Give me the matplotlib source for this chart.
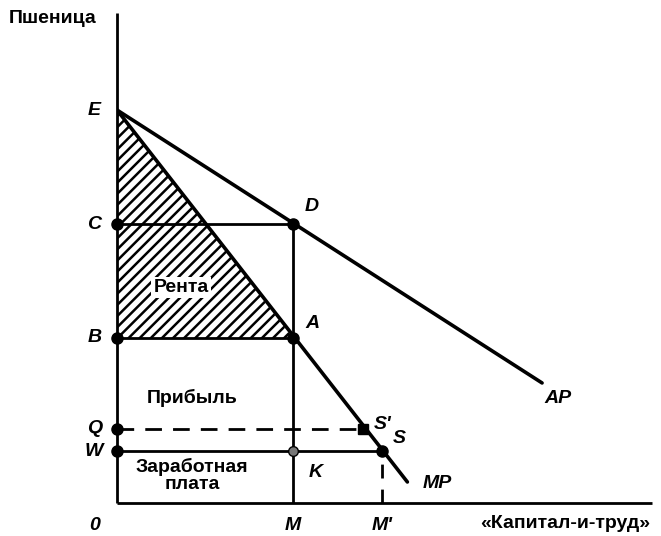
import matplotlib.pyplot as plt
from matplotlib.patches import Polygon

plt.rcParams['font.family'] = ['Liberation Sans', 'DejaVu Sans']
plt.rcParams['hatch.linewidth'] = 1.8

# уровни по вертикали (пшеница)
y_E, y_C, y_B, y_Q, y_W = 22.46, 15.94, 9.43, 4.23, 2.97
# уровни по горизонтали (капитал-и-труд)
x_M, x_Mp, x_Sp = 10.06, 15.14, 14.06

# кривые: от E до концов
ap_x = [0, 24.3]
ap_y = [y_E, 6.86]
mp_x = [0, 16.6]
mp_y = [y_E, 1.2]

fig = plt.figure(figsize=(6.61, 5.36), dpi=100)
ax = fig.add_axes([0.177, 0.0616, 0.809, 0.914])
ax.set_xlim(0, 30.57)
ax.set_ylim(0, 28.0)
ax.axis('off')

lw = 2.0
# оси
ax.plot([0, 0], [0, 28.0], color='black', lw=lw, solid_capstyle='butt', clip_on=False)
ax.plot([0, 30.57], [0, 0], color='black', lw=lw, solid_capstyle='butt', clip_on=False)

# заштрихованная рента
ax.add_patch(Polygon([[0, y_E], [x_M, y_B], [0, y_B]], closed=True,
                     facecolor='white', edgecolor='black', hatch='///', lw=0))

# линии AP и MP
ax.plot(ap_x, ap_y, color='black', lw=2.6, solid_capstyle='round')
ax.plot(mp_x, mp_y, color='black', lw=2.6, solid_capstyle='round')

# прямоугольники
ax.plot([0, x_M], [y_C, y_C], color='black', lw=lw)
ax.plot([0, x_M], [y_B, y_B], color='black', lw=lw)
ax.plot([x_M, x_M], [0, y_C], color='black', lw=lw)
ax.plot([0, x_Mp], [y_W, y_W], color='black', lw=lw)
ax.plot([0, x_Sp], [y_Q, y_Q], color='black', lw=lw, linestyle=(0, (6, 4)))
ax.plot([x_Mp, x_Mp], [0, y_W], color='black', lw=lw, linestyle=(0, (5, 4)))

# точки
pts_x = [0, 0, 0, 0, x_M, x_M, x_Mp]
pts_y = [y_C, y_B, y_Q, y_W, y_C, y_B, y_W]
ax.plot(pts_x, pts_y, 'o', color='black', ms=8, zorder=5, clip_on=False)
ax.plot([x_Sp], [y_Q], 's', color='black', ms=7, zorder=5)
ax.plot([x_M], [y_W], 'o', color='#777777', mec='black', ms=7, zorder=5)

# подписи
lab = dict(fontsize=14, fontweight='bold', fontstyle='italic', ha='center', va='center')
ax.text(-1.3, y_E, 'E', **lab)
ax.text(-1.3, y_C, 'C', **lab)
ax.text(-1.3, y_B, 'B', **lab)
ax.text(-1.3, y_Q, 'Q', **lab)
ax.text(-1.3, y_W, 'W', **lab)
ax.text(-1.3, -1.3, '0', **lab)
ax.text(x_M, -1.3, 'M', **lab)
ax.text(x_Mp, -1.3, "M'", **lab)
ax.text(x_M + 1.1, y_C + 1.0, 'D', **lab)
ax.text(x_M + 1.1, y_B + 0.85, 'A', **lab)
ax.text(x_Sp + 1.15, y_Q + 0.25, "S'", **lab)
ax.text(x_Mp + 1.0, y_W + 0.7, 'S', **lab)
ax.text(25.2, 6.0, 'AP', **lab)
ax.text(18.3, 1.1, 'MP', **lab)
ax.text(x_M + 1.3, y_W - 1.25, 'K', **lab)

txt = dict(fontsize=14, fontweight='bold', ha='center', va='center')
ax.text(3.66, 12.3, 'Рента', bbox=dict(facecolor='white', edgecolor='none', pad=1.5), **txt)
ax.text(4.3, 6.0, 'Прибыль', **txt)
ax.text(4.3, 1.55, 'Заработная\nплата', linespacing=1.0, **txt)
ax.text(25.6, -1.15, '«Капитал-и-труд»', **txt)
ax.text(-3.7, 27.7, 'Пшеница', **txt)

fig.savefig('out.png', dpi=100)
